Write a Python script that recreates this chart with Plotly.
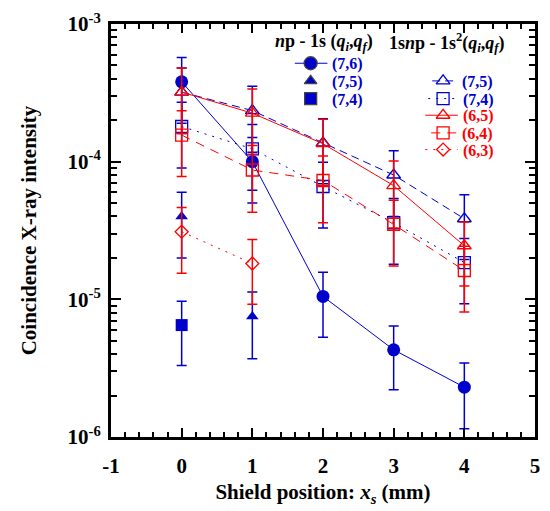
import plotly.graph_objects as go

# ---------------- data ----------------
x_all = [0, 1, 2, 3, 4]

# np - 1s
np1s_76 = [3.8e-4, 1.0e-4, 1.05e-5, 4.3e-6, 2.3e-6]
np1s_76_err = [1.9e-4, 5.0e-5, 5.2e-6, 2.1e-6, 1.15e-6]
x_75 = [0, 1]
np1s_75 = [4.0e-5, 7.5e-6]
np1s_75_err = [2.0e-5, 3.8e-6]
x_74 = [0]
np1s_74 = [6.5e-6]
np1s_74_err = [3.2e-6]

# 1snp - 1s^2
s_75 = [3.2e-4, 2.35e-4, 1.37e-4, 8.0e-5, 3.85e-5]
s_75_err = [1.6e-4, 1.18e-4, 6.8e-5, 4.0e-5, 1.9e-5]
s_74 = [1.8e-4, 1.24e-4, 6.6e-5, 3.6e-5, 1.85e-5]
s_74_err = [9.0e-5, 6.2e-5, 3.3e-5, 1.8e-5, 9.2e-6]
s_65 = [3.2e-4, 2.25e-4, 1.35e-4, 6.7e-5, 2.45e-5]
s_65_err = [1.6e-4, 1.12e-4, 6.8e-5, 3.4e-5, 1.2e-5]
s_64 = [1.56e-4, 8.7e-5, 7.3e-5, 3.5e-5, 1.62e-5]
s_64_err = [7.8e-5, 4.4e-5, 3.7e-5, 1.75e-5, 8.1e-6]
x_63 = [0, 1]
s_63 = [3.1e-5, 1.82e-5]
s_63_err = [1.55e-5, 9.0e-6]

y_tickvals = [1e-6, 1e-5, 1e-4, 1e-3]
y_ticktext = ["10<sup>-6</sup>", "10<sup>-5</sup>", "10<sup>-4</sup>", "10<sup>-3</sup>"]
x_tickvals = [-1, 0, 1, 2, 3, 4, 5]

BLUE = "#0000CC"
RED = "#FF0000"
FONT = "Liberation Serif"

fig = go.Figure()


def err(arr, color):
    return dict(type="data", array=arr, visible=True, color=color, thickness=1.5, width=5)


# blue traces
fig.add_trace(go.Scatter(x=x_all, y=s_75, mode="lines+markers",
                         line=dict(color=BLUE, width=1, dash="8px,5px"),
                         marker=dict(symbol="triangle-up-open", size=12, color=BLUE, line=dict(width=1.3)),
                         error_y=err(s_75_err, BLUE)))
fig.add_trace(go.Scatter(x=x_all, y=s_74, mode="lines+markers",
                         line=dict(color=BLUE, width=1, dash="2px,6px"),
                         marker=dict(symbol="square-open", size=12, color=BLUE, line=dict(width=1.3)),
                         error_y=err(s_74_err, BLUE)))
fig.add_trace(go.Scatter(x=x_all, y=np1s_76, mode="lines+markers",
                         line=dict(color=BLUE, width=1),
                         marker=dict(symbol="circle", size=13, color=BLUE),
                         error_y=err(np1s_76_err, BLUE)))
fig.add_trace(go.Scatter(x=x_75, y=np1s_75, mode="markers",
                         marker=dict(symbol="triangle-up", size=11, color=BLUE),
                         error_y=err(np1s_75_err, BLUE)))
fig.add_trace(go.Scatter(x=x_74, y=np1s_74, mode="markers",
                         marker=dict(symbol="square", size=12, color=BLUE),
                         error_y=err(np1s_74_err, BLUE)))
# red traces
fig.add_trace(go.Scatter(x=x_all, y=s_65, mode="lines+markers",
                         line=dict(color=RED, width=1),
                         marker=dict(symbol="triangle-up-open", size=12, color=RED, line=dict(width=1.3)),
                         error_y=err(s_65_err, RED)))
fig.add_trace(go.Scatter(x=x_all, y=s_64, mode="lines+markers",
                         line=dict(color=RED, width=1, dash="9px,7px"),
                         marker=dict(symbol="square-open", size=12, color=RED, line=dict(width=1.3)),
                         error_y=err(s_64_err, RED)))
fig.add_trace(go.Scatter(x=x_63, y=s_63, mode="lines+markers",
                         line=dict(color=RED, width=1, dash="2px,6px"),
                         marker=dict(symbol="diamond-open", size=10, color=RED, line=dict(width=1.3)),
                         error_y=err(s_63_err, RED)))

# ---------------- manual legend on an overlay axis (pixel-like coordinates) ----------------
legend_items = [
    # x0, x1, xm, y, dash, symbol, size, color, label, show_line
    (297, 330, 313, 59, "solid", "circle", 13, BLUE, "(7,6)", True),
    (297, 330, 313, 77, "solid", "triangle-up", 11, BLUE, "(7,5)", False),
    (297, 330, 313, 95, "solid", "square", 12, BLUE, "(7,4)", False),
    (436, 461, 447, 77, "8px,5px", "triangle-up-open", 12, BLUE, "(7,5)", True),
    (432, 462, 447, 95, "2px,6px", "square-open", 12, BLUE, "(7,4)", True),
    (429, 462, 447, 112, "solid", "triangle-up-open", 12, RED, "(6,5)", True),
    (435, 461, 447, 130, "9px,7px", "square-open", 12, RED, "(6,4)", True),
    (429, 462, 447, 147, "2px,6px", "diamond-open", 10, RED, "(6,3)", True),
]
annotations = []
for x0, x1, xm, yy, dash, sym, sz, col, lab, show_line in legend_items:
    if show_line:
        fig.add_trace(go.Scatter(x=[x0, x1], y=[yy, yy], mode="lines", xaxis="x2", yaxis="y2",
                                 line=dict(color=col, width=1, dash=dash), hoverinfo="skip"))
    fig.add_trace(go.Scatter(x=[xm], y=[yy], mode="markers", xaxis="x2", yaxis="y2",
                             marker=dict(symbol=sym, size=sz, color=col, line=dict(width=1.3)),
                             hoverinfo="skip"))
    annotations.append(dict(x=x1 + 3, y=yy + 1, xref="x2", yref="y2", text="<b>" + lab + "</b>",
                            showarrow=False, xanchor="left", yanchor="middle",
                            font=dict(family=FONT, size=16, color=col)))

annotations.append(dict(x=327, y=38, xref="x2", yref="y2",
                        text="<b><i>n</i>p - 1s (<i>q<sub>i</sub></i>,<i>q<sub>f</sub></i>)</b>",
                        showarrow=False, xanchor="center", yanchor="middle",
                        font=dict(family=FONT, size=18, color="black")))
annotations.append(dict(x=451, y=38, xref="x2", yref="y2",
                        text="<b>1s<i>n</i>p - 1s<sup>2</sup>(<i>q<sub>i</sub></i>,<i>q<sub>f</sub></i>)</b>",
                        showarrow=False, xanchor="center", yanchor="middle",
                        font=dict(family=FONT, size=18, color="black")))

axis_common = dict(showline=True, linewidth=3, linecolor="black", mirror="allticks",
                   ticks="inside", tickcolor="black", tickwidth=2, showgrid=False, zeroline=False,
                   tickfont=dict(family=FONT, size=21, color="black"))

y_minor = [m * 10 ** e for e in (-6, -5, -4) for m in range(2, 10)]

fig.update_layout(
    width=550, height=511,
    margin=dict(l=111, r=10, t=19, b=71),
    paper_bgcolor="white", plot_bgcolor="white",
    showlegend=False,
    font=dict(family=FONT, color="black"),
    xaxis=dict(range=[-1, 5], tickmode="array", tickvals=x_tickvals,
               ticktext=["<b>%d</b>" % v for v in x_tickvals], ticklen=9, ticklabelstandoff=8,
               minor=dict(tickmode="linear", dtick=0.2, tick0=0, ticks="inside", ticklen=5,
                          tickwidth=1.5, tickcolor="black", showgrid=False),
               title=dict(text="<b>Shield position: <i>x<sub>s</sub></i> (mm)</b>",
                          font=dict(family=FONT, size=21), standoff=8),
               **axis_common),
    yaxis=dict(type="log", range=[-6, -3], tickmode="array", tickvals=y_tickvals,
               ticktext=["<b>" + t + "</b>" for t in y_ticktext], ticklen=10, ticklabelstandoff=3,
               minor=dict(tickmode="array", tickvals=y_minor, ticks="inside", ticklen=6,
                          tickwidth=1.5, tickcolor="black", showgrid=False),
               title=dict(text="<b>Coincidence X-ray intensity</b>",
                          font=dict(family=FONT, size=21), standoff=26),
               **axis_common),
    xaxis2=dict(overlaying="x", range=[111, 540], visible=False, fixedrange=True),
    yaxis2=dict(overlaying="y", range=[440, 19], autorange=False, visible=False, fixedrange=True),
    annotations=annotations,
)

fig.write_html("out.html")
